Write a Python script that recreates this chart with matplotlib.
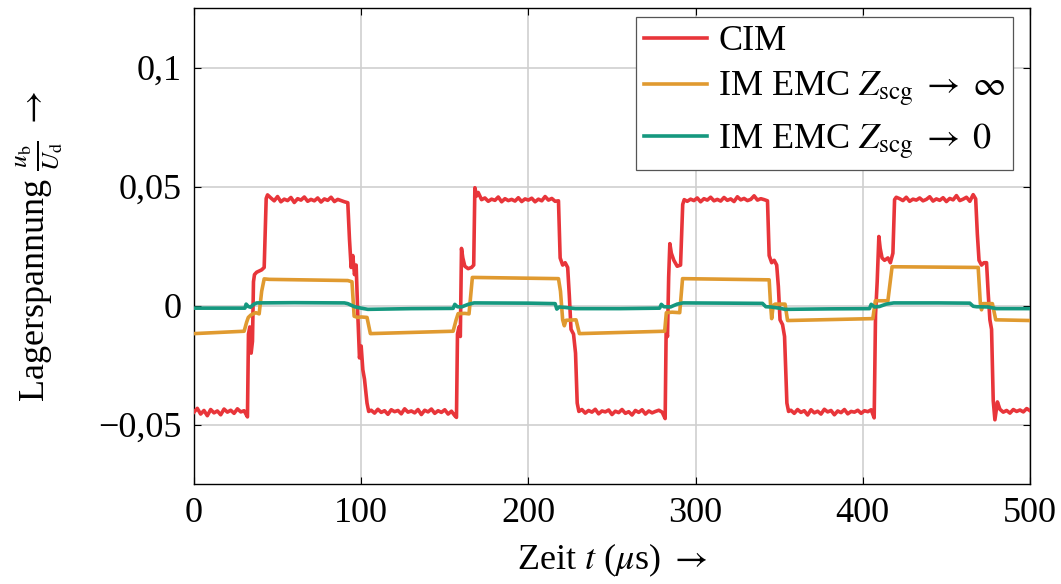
import numpy as np
import matplotlib
matplotlib.use("Agg")
import matplotlib.pyplot as plt

plt.rcParams['font.family'] = ['Liberation Serif', 'DejaVu Serif']
plt.rcParams['mathtext.fontset'] = 'stix'
plt.rcParams['font.size'] = 26

# --- data ---
# CIM
cim_t = [0, 2, 4, 6, 8, 10, 12, 14, 16, 18, 20, 22, 24, 26, 28, 30, 32,
         32.6, 33.4, 34.2, 35.0, 35.6, 36.2, 37.5, 39.0, 40.5, 42.0, 43.2, 44.0,
         46, 48, 50, 52, 54, 56, 58, 60, 62, 64, 66, 68, 70, 72, 74, 76, 78, 80, 82, 84, 86, 88, 90, 92,
         93, 94, 95, 96, 97, 98, 99, 100, 101, 102, 103.5, 104.5,
         106, 108, 110, 112, 114, 116, 118, 120, 122, 124, 126, 128, 130, 132, 134, 136, 138, 140,
         142, 144, 146, 148, 150, 152, 154, 156,
         157.0, 157.6, 158.5, 159.3, 160.0, 160.8, 162.0, 164.0, 166.0, 167.3, 168.0, 169.0, 170.0,
         172, 174, 176, 178, 180, 182, 184, 186, 188, 190, 192, 194, 196, 198, 200, 202, 204, 206,
         208, 210, 212, 214, 216,
         218, 219, 220.5, 222, 223.5, 224.5, 225.5, 227, 228.2, 229.2, 230.2,
         232, 234, 236, 238, 240, 242, 244, 246, 248, 250, 252, 254, 256, 258, 260, 262, 264, 266,
         268, 270, 272, 274, 276, 278, 280, 281.8,
         282.4, 283.2, 283.9, 284.6, 285.5, 287, 289, 291, 292.3, 293.2,
         295, 297, 299, 301, 303, 305, 307, 309, 311, 313, 315, 317, 319, 321, 323, 325, 327, 329,
         331, 333, 335, 337, 339, 341, 343,
         344, 345.5, 347, 348.5, 349.5, 350.5, 352, 353.2, 354.6, 355.6,
         357, 359, 361, 363, 365, 367, 369, 371, 373, 375, 377, 379, 381, 383, 385, 387, 389, 391,
         393, 395, 397, 399, 401, 403, 405, 406.8,
         407.6, 408.6, 409.6, 410.4, 411.5, 413, 415, 416.5, 418, 419, 420,
         422, 424, 426, 428, 430, 432, 434, 436, 438, 440, 442, 444, 446, 448, 450, 452, 454, 456,
         458, 460, 462, 464, 466, 467.5,
         468.5, 469.5, 471, 472.5, 474, 475, 476, 477, 478, 479, 480.5,
         482, 484, 486, 488, 490, 492, 494, 496, 498, 500]
cim_v = [-0.0448, -0.0432, -0.0456, -0.0441, -0.0463, -0.0437, -0.0451, -0.0443, -0.0459, -0.0435,
         -0.0448, -0.0440, -0.0453, -0.0434, -0.0447, -0.0442, -0.0468,
         -0.012, -0.009, -0.020, -0.015, 0.010, 0.013, 0.014, 0.0145, 0.015, 0.016, 0.045, 0.0465,
         0.0452, 0.0440, 0.0458, 0.0436, 0.0447, 0.0441, 0.0454, 0.0433, 0.0449, 0.0443, 0.0456,
         0.0438, 0.0446, 0.0440, 0.0452, 0.0435, 0.0448, 0.0442, 0.0455, 0.0437, 0.0446, 0.0441,
         0.0436, 0.0432,
         0.028, 0.016, 0.021, 0.013, 0.017, -0.004, -0.022, -0.017, -0.027, -0.031, -0.041, -0.0445,
         -0.0440, -0.0452, -0.0436, -0.0449, -0.0442, -0.0457, -0.0438, -0.0446, -0.0441, -0.0455,
         -0.0434, -0.0448, -0.0443, -0.0451, -0.0437, -0.0458, -0.0440, -0.0447, -0.0435, -0.0453,
         -0.0442, -0.0449, -0.0438, -0.0456, -0.0444, -0.0463,
         -0.047, -0.012, -0.009, -0.013, 0.024, 0.020, 0.0165, 0.0155, 0.016, 0.017, 0.0495, 0.046, 0.0475,
         0.0445, 0.0452, 0.0438, 0.0447, 0.0442, 0.0456, 0.0436, 0.0449, 0.0441, 0.0446, 0.0439,
         0.0453, 0.0437, 0.0448, 0.0443, 0.0451, 0.0436, 0.0447, 0.0440, 0.0458, 0.0443, 0.0450, 0.0438,
         0.0440, 0.020, 0.017, 0.018, 0.016, 0.004, -0.010, -0.012, -0.020, -0.041, -0.0445,
         -0.0437, -0.0452, -0.0441, -0.0448, -0.0436, -0.0455, -0.0443, -0.0447, -0.0439, -0.0458,
         -0.0444, -0.0450, -0.0437, -0.0453, -0.0446, -0.0460, -0.0441, -0.0449, -0.0438, -0.0456,
         -0.0443, -0.0451, -0.0445, -0.0440, -0.0448, -0.0475,
         -0.010, -0.013, 0.012, 0.026, 0.022, 0.019, 0.0165, 0.017, 0.0425, 0.0445,
         0.0438, 0.0447, 0.0441, 0.0452, 0.0436, 0.0449, 0.0443, 0.0455, 0.0440, 0.0446, 0.0439,
         0.0454, 0.0442, 0.0448, 0.0437, 0.0457, 0.0444, 0.0450, 0.0441, 0.0446, 0.0461, 0.0443,
         0.0449, 0.0445, 0.0440,
         0.021, 0.018, 0.019, 0.017, 0.008, -0.006, -0.008, -0.013, -0.041, -0.0445,
         -0.0440, -0.0453, -0.0437, -0.0449, -0.0442, -0.0460, -0.0438, -0.0451, -0.0444, -0.0456,
         -0.0436, -0.0447, -0.0441, -0.0459, -0.0443, -0.0450, -0.0437, -0.0455, -0.0445, -0.0448,
         -0.0440, -0.0453, -0.0442, -0.0446, -0.0438, -0.0472,
         -0.004, 0.010, 0.029, 0.024, 0.020, 0.019, 0.020, 0.018, 0.022, 0.0445, 0.0455,
         0.0449, 0.0441, 0.0455, 0.0438, 0.0447, 0.0443, 0.0452, 0.0440, 0.0446, 0.0457, 0.0439,
         0.0448, 0.0442, 0.0453, 0.0437, 0.0450, 0.0444, 0.0462, 0.0441, 0.0447, 0.0455, 0.0438,
         0.0466, 0.0448,
         0.030, 0.019, 0.017, 0.018, 0.018, 0.005, -0.006, -0.010, -0.040, -0.048, -0.0405,
         -0.0436, -0.0448, -0.0441, -0.0452, -0.0437, -0.0445, -0.0439, -0.0447, -0.0433, -0.0442]

# IM EMC, Zscg -> infinity
inf_t = [0, 30, 31.5, 32.5, 34, 37, 39, 40.5, 42, 45, 92, 94.5, 95.8, 98, 100, 103.5, 105.5,
         155, 156.8, 158, 162, 164.5, 166.5, 168, 218, 219.2, 220.5, 221.5, 222.5, 228.5, 230.5,
         281.5, 282.5, 286, 290.5, 292.2, 344, 344.8, 345.5, 346.4, 347.5, 353.5, 355,
         406, 407.5, 411, 415, 417.5, 469, 470.3, 471, 471.8, 477.5, 479.5, 500]
inf_v = [-0.0118, -0.0108, -0.007, -0.0050, -0.0040, -0.0030, -0.0035, 0.006, 0.0112, 0.0110,
         0.0105, 0.0100, -0.0045, -0.0050, -0.0048, -0.0050, -0.0118,
         -0.0108, -0.0060, -0.0034, -0.0033, -0.0035, 0.0118, 0.0118, 0.0113, 0.0060, -0.0060,
         -0.0085, -0.0062, -0.0060, -0.0118,
         -0.0108, -0.0030, -0.0028, -0.0030, 0.0113, 0.0108, 0.0008, -0.0055, 0.0000, 0.0006,
         0.0006, -0.0063,
         -0.0055, 0.0020, 0.0020, 0.0020, 0.0163, 0.0160, 0.0008, -0.0018, 0.0008, 0.0008,
         -0.0060, -0.0063]

# IM EMC, Zscg -> 0
zero_t = [0, 30.5, 31.2, 32.5, 33.8, 35.5, 37.5, 60, 90, 92, 96, 100, 104, 130, 155, 156,
          157.5, 160, 164, 167.5, 200, 216, 217, 218.5, 222, 228, 255, 278.5, 279.5, 281, 285,
          289, 292.5, 320, 340, 342, 345, 350, 353.5, 380, 404, 405, 407, 410, 414, 418.5,
          445, 464, 466, 468, 474.5, 480, 500]
zero_v = [-0.0011, -0.0011, 0.0006, -0.0004, -0.0007, 0.0004, 0.0011, 0.0012, 0.0011, 0.0008,
          -0.0005, -0.0011, -0.0016, -0.0013, -0.0012, 0.0005, -0.0005, -0.0006, 0.0005, 0.0011,
          0.0010, 0.0008, -0.0015, -0.0006, -0.0008, -0.0013, -0.0013, -0.0011, 0.0005, -0.0005,
          -0.0006, 0.0006, 0.0011, 0.0010, 0.0009, -0.0005, -0.0006, -0.0011, -0.0016, -0.0014,
          -0.0013, 0.0005, -0.0006, -0.0004, 0.0006, 0.0011, 0.0011, 0.0010, -0.0003, -0.0005,
          -0.0006, -0.0013, -0.0013]

series_names = ['CIM', r'IM EMC $Z_\mathrm{scg}\;\rightarrow\;\infty$',
                r'IM EMC $Z_\mathrm{scg}\;\rightarrow\;0$']
colors = ['#e8353a', '#e09a30', '#15987f']

x_ticks = [0, 100, 200, 300, 400, 500]
y_ticks = [-0.05, 0, 0.05, 0.1]
y_tick_labels = ['\u22120,05', '0', '0,05', '0,1']

fig = plt.figure(figsize=(10.61, 5.84), dpi=100)
ax = fig.add_axes([0.1828, 0.1712, 0.788, 0.815])

ax.plot(cim_t, cim_v, color=colors[0], lw=2.6, label=series_names[0], zorder=3)
ax.plot(inf_t, inf_v, color=colors[1], lw=2.6, label=series_names[1], zorder=4)
ax.plot(zero_t, zero_v, color=colors[2], lw=2.6, label=series_names[2], zorder=5)

ax.set_xlim(0, 500)
ax.set_ylim(-0.075, 0.125)
ax.set_xticks(x_ticks)
ax.set_yticks(y_ticks)
ax.set_yticklabels(y_tick_labels)
ax.grid(True, color='#cfcfcf', lw=1.2)
ax.set_axisbelow(True)
ax.tick_params(direction='in', length=5, width=0.8, top=True, right=True, pad=9)
for s in ax.spines.values():
    s.set_linewidth(1.0)

ax.set_xlabel(r'Zeit $t$ ($\mu$s) $\rightarrow$', labelpad=9)
ax.set_ylabel(r'Lagerspannung $\frac{u_\mathrm{b}}{U_\mathrm{d}}$ $\rightarrow$', labelpad=24)

leg = ax.legend(loc='upper right', bbox_to_anchor=(0.98, 0.981), fancybox=False, framealpha=1,
                edgecolor='#555555', handlelength=1.75, handletextpad=0.3, borderaxespad=0,
                labelspacing=0.33, borderpad=0.22)
leg.get_frame().set_linewidth(0.9)

fig.savefig('out.png', dpi=100)
